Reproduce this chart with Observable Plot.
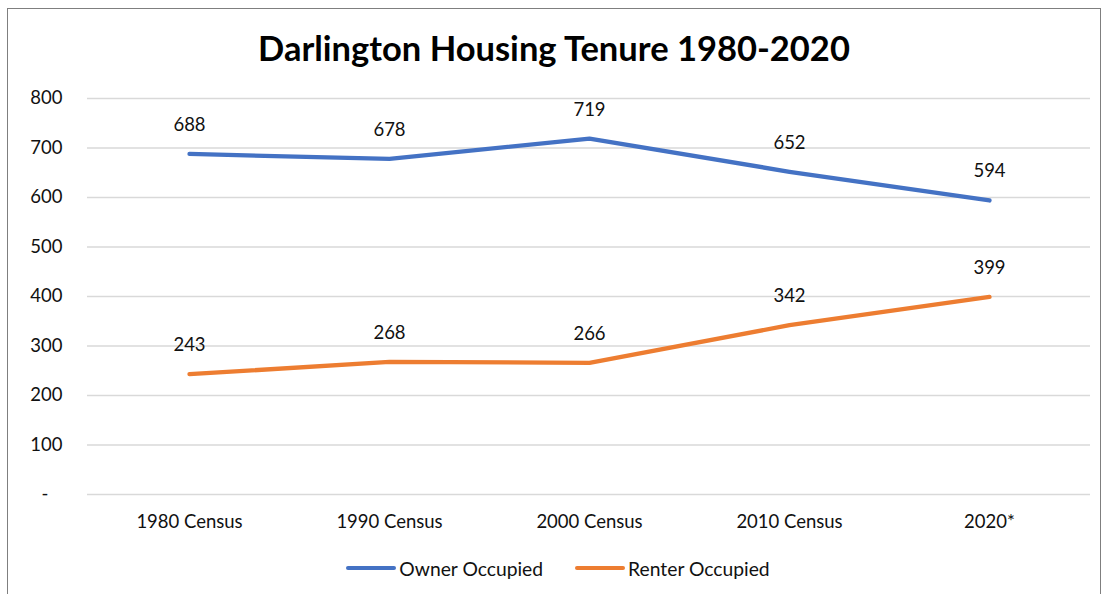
<!DOCTYPE html>
<html>
<head>
<meta charset="utf-8">
<script src="https://cdn.jsdelivr.net/npm/d3@7"></script>
<script src="https://cdn.jsdelivr.net/npm/@observablehq/plot@0.6"></script>
<style>
  html, body { margin: 0; padding: 0; background: #fff; overflow: hidden; }
  #frame { position: absolute; left: 7px; top: 8px; width: 1094px; height: 620px;
    border: 1px solid #7f7f7f; box-sizing: border-box; font-family: Lato, "Open Sans", sans-serif; }
  #title { height: 78px; line-height: 78px; text-align: center; font-size: 34.5px; font-weight: bold; color: #000; }
  #legend { height: 42px; display: flex; justify-content: center; align-items: center; gap: 32px; font-size: 19.3px; color: #111; padding-left: 8px; }
  .sw { display: inline-block; width: 50px; height: 4px; vertical-align: middle; margin-right: 3px; border-radius: 2px; }
  .item { display: flex; align-items: center; }
</style>
</head>
<body>
<div id="frame">
  <div id="title">Darlington Housing Tenure 1980-2020</div>
  <div id="chart"></div>
  <div id="legend"></div>
</div>
<script>
const categories = ["1980 Census", "1990 Census", "2000 Census", "2010 Census", "2020*"];
const ownerOccupied = [688, 678, 719, 652, 594];
const renterOccupied = [243, 268, 266, 342, 399];
const seriesNames = ["Owner Occupied", "Renter Occupied"];
const seriesColors = ["#4472C4", "#ED7D31"];
const yTicks = [0, 100, 200, 300, 400, 500, 600, 700, 800];

const data = [];
categories.forEach((c, i) => {
  data.push({cat: c, series: seriesNames[0], value: ownerOccupied[i]});
  data.push({cat: c, series: seriesNames[1], value: renterOccupied[i]});
});

const chart = Plot.plot({
  width: 1092,
  height: 460,
  marginLeft: 79,
  marginRight: 10,
  marginTop: 11,
  marginBottom: 53,
  style: { fontFamily: "Lato, 'Open Sans', sans-serif", fontSize: "18.5px", color: "#111", background: "#fff" },
  x: { domain: categories, type: "point", padding: 0.5, label: null },
  y: { domain: [0, 800], label: null },
  color: { domain: seriesNames, range: seriesColors },
  marks: [
    Plot.gridY(yTicks, { stroke: "#d9d9d9", strokeOpacity: 1, strokeWidth: 1.5 }),
    Plot.axisY(yTicks, { tickSize: 0, tickPadding: 25, fontSize: 18.5,
      tickFormat: d => d === 0 ? "-\u00a0\u00a0\u00a0" : String(d) }),
    Plot.axisX({ tickSize: 0, tickPadding: 20, fontSize: 18.5 }),
    Plot.line(data, { x: "cat", y: "value", z: "series", stroke: "series", strokeWidth: 4.3, curve: "linear" }),
    Plot.text(data, { x: "cat", y: "value", text: d => String(d.value), dy: -29, fontSize: 18.5, fill: "#111" })
  ]
});
document.getElementById("chart").appendChild(chart);

const legend = document.getElementById("legend");
seriesNames.forEach((n, i) => {
  const it = document.createElement("div");
  it.className = "item";
  const sw = document.createElement("span");
  sw.className = "sw";
  sw.style.background = seriesColors[i];
  it.appendChild(sw);
  it.appendChild(document.createTextNode(n));
  legend.appendChild(it);
});
</script>
</body>
</html>
